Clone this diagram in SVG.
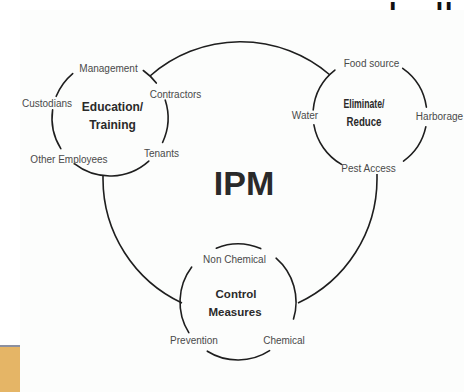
<svg xmlns="http://www.w3.org/2000/svg" width="464" height="392" viewBox="0 0 464 392">
<style>
.ring{fill:none;stroke:#1e1e1e;stroke-width:1.6;stroke-linecap:round}
.conn{fill:none;stroke:#1e1e1e;stroke-width:1.6}
.lbl{font-family:"Liberation Sans",Arial,sans-serif;font-size:10px;fill:#4a4a4a;text-anchor:middle}
.ttl{font-family:"Liberation Sans",Arial,sans-serif;font-weight:bold;fill:#2a2a2a;text-anchor:middle}
</style>
<rect width="464" height="392" fill="#ffffff"/>
<text x="367" y="33" font-family="Liberation Sans, Arial, sans-serif" font-size="42" fill="#111">shall</text>
<rect x="20" y="10" width="444" height="382" fill="#fcfdfc"/>
<rect x="0" y="346" width="20" height="46" fill="#e5b566"/>
<rect x="0" y="345" width="20" height="2" fill="#8c90a0"/>

<g id="connectors">
<path class="conn" d="M150,76 A137,137 0 0 1 330,75"/>
<path class="conn" d="M103,175 L103,179 A137,137 0 0 0 182,303"/>
<path class="conn" d="M377,174 L377,179 A137,137 0 0 1 298,303"/>
</g>

<g id="ipm">
<text class="ttl" x="244" y="195" font-size="34" fill="#1a1a1a">IPM</text>
</g>

<g id="education">
<path class="ring" d="M56.2,96.3 A58,58 0 0 1 72.7,73.6"/>
<path class="ring" d="M143.3,70.5 A58,58 0 0 1 156.3,83.1"/>
<path class="ring" d="M165.2,100.1 A58,58 0 0 1 162.6,142.5"/>
<path class="ring" d="M148.8,161.1 A58,58 0 0 1 74.3,163.7"/>
<path class="ring" d="M60.8,148.7 A58,58 0 0 1 52.6,109.9"/>
<text class="ttl" x="112.5" y="111" font-size="12">Education/</text>
<text class="ttl" x="112.5" y="129" font-size="12">Training</text>
<text class="lbl" x="108.5" y="71.5">Management</text>
<text class="lbl" x="175.5" y="97.5">Contractors</text>
<text class="lbl" x="47" y="106.5">Custodians</text>
<text class="lbl" x="69" y="162.5">Other Employees</text>
<text class="lbl" x="161.5" y="156.5">Tenants</text>
</g>

<g id="eliminate">
<path class="ring" d="M313.2,110 A57,57 0 0 1 334.9,70.1"/>
<path class="ring" d="M341.5,164.4 A57,57 0 0 1 313.9,124.9"/>
<path class="ring" d="M425.8,126.9 A57,57 0 0 1 403.5,161.1"/>
<path class="ring" d="M402.7,68.3 A57,57 0 0 1 426.4,107.1"/>
<text class="ttl" x="364" y="107.5" font-size="12.5" textLength="41" lengthAdjust="spacingAndGlyphs">Eliminate/</text>
<text class="ttl" x="364" y="125.5" font-size="12.5" textLength="35" lengthAdjust="spacingAndGlyphs">Reduce</text>
<text class="lbl" x="371.5" y="66.5">Food source</text>
<text class="lbl" x="305" y="118.5">Water</text>
<text class="lbl" x="439.5" y="119.5">Harborage</text>
<text class="lbl" x="368.5" y="171.5">Pest Access</text>
</g>

<g id="control">
<path class="ring" d="M216.3,248.2 A58,58 0 0 1 260.7,248.6"/>
<path class="ring" d="M276.1,258.2 A58,58 0 0 1 293.5,319"/>
<path class="ring" d="M269.6,350.6 A58,58 0 0 1 207.3,351.2"/>
<path class="ring" d="M188.8,332.7 A58,58 0 0 1 191.7,267.1"/>
<text class="ttl" x="236" y="297.5" font-size="11.5">Control</text>
<text class="ttl" x="235" y="316" font-size="11.5">Measures</text>
<text class="lbl" x="234.5" y="262.5">Non Chemical</text>
<text class="lbl" x="194" y="343.5">Prevention</text>
<text class="lbl" x="284" y="343.5">Chemical</text>
</g>
</svg>
